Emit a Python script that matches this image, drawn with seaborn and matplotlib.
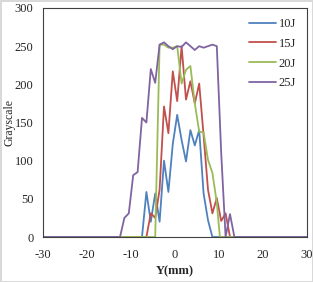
import matplotlib
matplotlib.use("Agg")
import matplotlib.pyplot as plt
import seaborn as sns
import pandas as pd

# grayscale profiles, one list pair per energy
x_10j = [-30, -7.5, -6.5, -5.5, -4.5, -3.5, -2.5, -1.5, -0.5, 0.5, 1.5, 2.5, 3.5, 4.5, 5.5, 6.5, 7.5, 8.5, 30]
y_10j = [0, 0, 59, 20, 57, 20, 100, 59, 122, 160, 127, 99, 140, 120, 140, 57, 22, 0, 0]

x_15j = [-30, -6.5, -5.5, -4.5, -3.5, -2.5, -1.5, -0.5, 0.5, 1.5, 2.5, 3.5, 4.5, 5.5, 6.5, 7.5, 8.5, 9.5, 10.5, 11.5, 12.5, 30]
y_15j = [0, 0, 31, 25, 62, 171, 136, 217, 178, 250, 180, 204, 175, 201, 133, 62, 31, 51, 21, 31, 0, 0]

x_20j = [-30, -4.5, -3.5, -2.5, -1.5, -0.5, 0.5, 1.5, 2.5, 3.5, 4.5, 5.5, 6.5, 7.5, 8.5, 9.5, 10.2, 30]
y_20j = [0, 0, 252, 252, 248, 248, 250, 201, 219, 224, 175, 138, 137, 101, 84, 45, 0, 0]

x_25j = [-30, -12.5, -11.5, -10.5, -9.5, -8.5, -7.5, -6.5, -5.5, -4.5, -3.5, -2.5, -1.5, -0.5, 0.5, 1.5,
         2.5, 3.5, 4.5, 5.5, 6.5, 7.5, 8.5, 9.5, 10.5, 11.5, 12.5, 13.5, 30]
y_25j = [0, 0, 25, 31, 81, 85, 156, 150, 220, 202, 252, 255, 250, 246, 250, 249,
         255, 250, 245, 250, 248, 250, 252, 250, 110, 0, 30, 0, 0]

labels = ["10J", "15J", "20J", "25J"]
colors = ["#4F81BD", "#C0504D", "#9BBB59", "#8064A2"]

frames = []
for lab, xs, ys in zip(labels, [x_10j, x_15j, x_20j, x_25j], [y_10j, y_15j, y_20j, y_25j]):
    frames.append(pd.DataFrame({"Y": xs, "gray": ys, "energy": lab}))
df = pd.concat(frames, ignore_index=True)

sns.set_style("white")
plt.rcParams["font.family"] = ["Liberation Serif", "DejaVu Serif"]
plt.rcParams["axes.unicode_minus"] = False

fig = plt.figure(figsize=(3.13, 2.82), dpi=100)
fig.patch.set_edgecolor("#d9d9d9")
fig.patch.set_linewidth(1.0)
ax = fig.add_axes([43 / 313, 45 / 282, 264 / 313, 229 / 282])

sns.lineplot(data=df, x="Y", y="gray", hue="energy", hue_order=labels,
             palette=colors, linewidth=1.3, sort=False, estimator=None, ax=ax)

ax.set_xlim(-30, 30)
ax.set_ylim(0, 300)
ax.set_xticks(range(-30, 31, 10))
ax.set_yticks(range(0, 301, 50))
ax.tick_params(axis="x", direction="in", length=3, width=0.8, color="#808080", labelsize=9, pad=9)
ax.tick_params(axis="y", length=0, labelsize=9, pad=7)
for s in ax.spines.values():
    s.set_color("#404040")
    s.set_linewidth(0.8)

ax.set_xlabel("Y(mm)", fontsize=9, fontweight="bold", labelpad=3)
ax.set_ylabel("Grayscale", fontsize=8.5)
ax.yaxis.set_label_coords(-0.105, 0.5)

leg = ax.legend(loc="upper right", bbox_to_anchor=(1.0, 1.005), frameon=False, fontsize=9,
                handlelength=2.2, handletextpad=0.2, labelspacing=0.62)

fig.savefig("out.png", dpi=100)
